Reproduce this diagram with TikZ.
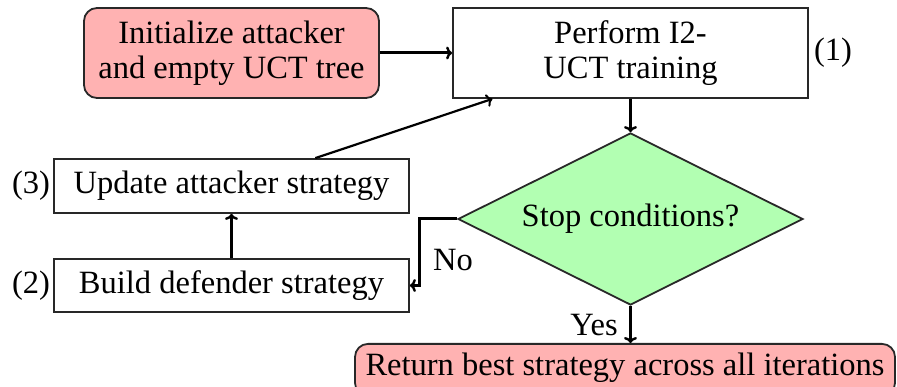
\documentclass[tikz,border=0pt]{standalone}
\usepackage{fontspec}
\setmainfont{Liberation Serif}
\usetikzlibrary{shapes.geometric,calc,arrows.meta}
\definecolor{startpink}{RGB}{255,178,178}
\definecolor{testgreen}{RGB}{178,255,178}
\definecolor{edgegray}{RGB}{40,40,40}
\tikzset{
  every node/.style={font=\fontsize{32.5}{35}\selectfont},
  box/.style={draw=edgegray, line width=1.8pt, inner sep=0pt, align=center},
  termbox/.style={box, fill=startpink, rounded corners=13pt},
  stepbox/.style={box, fill=white},
  test/.style={draw=edgegray, line width=1.8pt, fill=testgreen, shape=diamond,
    aspect=2, inner sep=0pt, minimum width=345pt, minimum height=172pt},
  flow/.style={-{To[length=6pt,width=13pt,line width=2.4pt]}, line width=3pt, black},
  thinflow/.style={-{To[length=6pt,width=13pt,line width=2pt]}, line width=2.2pt, black},
  tag/.style={inner sep=0pt},
}
\begin{document}
\begin{tikzpicture}[x=1pt,y=-1pt]
\useasboundingbox (0,0) rectangle (897,387);
% steps of the loop
\node[termbox, minimum width=295pt, minimum height=90pt] (init) at (231.5,53) {Initialize attacker\\and empty UCT tree};
\node[stepbox, minimum width=355pt, minimum height=90pt] (perf) at (630.5,53) {Perform I2-\\UCT training};
\node[stepbox, minimum width=355pt, minimum height=54pt] (upd) at (231.5,186) {Update attacker strategy};
\node[stepbox, minimum width=355pt, minimum height=53pt] (build) at (231.5,285.5) {Build defender strategy};
\node[test] (dec) at (630.5,219) {Stop conditions?};
\node[termbox, anchor=north, minimum width=540pt, text height=32pt, text depth=20pt] (ret) at (625,343) {Return best strategy across all iterations};
% step numbers
\node[tag, anchor=west] (n1) at ($(perf.east)+(5,0)$) {(1)};
\node[tag, anchor=east] (n3) at ($(upd.west)+(-3,0)$) {(3)};
\node[tag, anchor=east] (n2) at ($(build.west)+(-3,0)$) {(2)};
% connectors
\draw[flow] (init) -- (perf);
\draw[flow] (perf) -- (dec);
\draw[flow] (build) -- (upd);
\draw[thinflow] ($(upd.north west)!0.735!(upd.north east)$) -- ($(perf.south west)!0.113!(perf.south east)$);
\draw[flow] (dec.west) -- ++(-38,0) |- (build.east);
\draw[flow] (dec.south) -- (dec.south |- ret.north);
% branch labels
\node[tag] (no) at (453,260) {No};
\node[tag] (yes) at (594,325) {Yes};
\end{tikzpicture}
\end{document}
